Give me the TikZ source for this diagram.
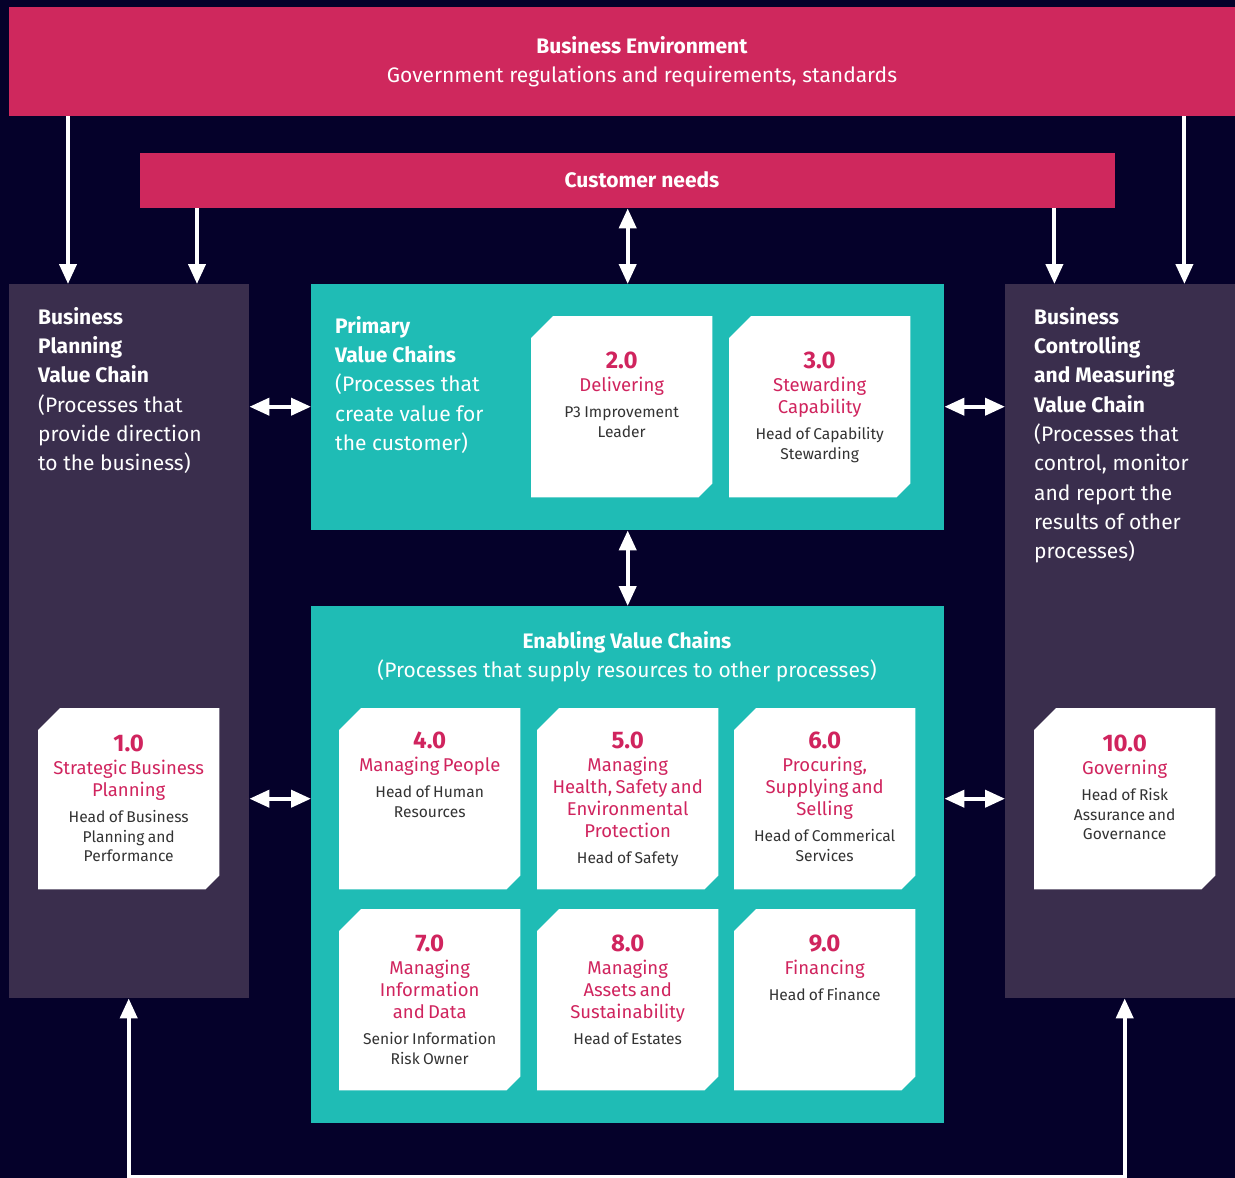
\documentclass[tikz,border=0pt]{standalone}
\usepackage{fontspec}
\setmainfont{Fira Sans}
\usepackage{xcolor}
\usepackage{tikz}
\usetikzlibrary{calc, positioning, arrows.meta}
\definecolor{bgnavy}{HTML}{05012A}
\definecolor{crimson}{HTML}{CF285D}
\definecolor{tealbox}{HTML}{1FBCB5}
\definecolor{panelgrey}{HTML}{3A2E4D}
\definecolor{pinktext}{HTML}{D0245E}
\definecolor{darktext}{HTML}{333333}
\newcommand{\cnum}[1]{{\fontsize{24}{24}\selectfont\bfseries\color{pinktext}#1\par}}
\newcommand{\ctitle}[1]{{\vspace{1pt}\fontsize{18.5}{22}\selectfont\color{pinktext}#1\par}}
\newcommand{\cowner}[1]{{\vspace{6.5pt}\fontsize{15.6}{19.5}\selectfont\color{darktext}#1\par}}
\tikzset{
    envbox/.style = {fill=crimson, inner sep=0pt, anchor=north west},
    panelbox/.style = {fill=panelgrey, inner sep=0pt, anchor=north west, minimum width=240pt, minimum height=714pt},
    chainbox/.style = {fill=tealbox, inner sep=0pt, anchor=north west, minimum width=633pt},
    cardnode/.style = {inner sep=0pt, anchor=north west, minimum width=181pt, minimum height=181pt},
    cardtext/.style = {inner sep=0pt, anchor=north, text width=178pt, align=center},
    headtext/.style = {inner sep=0pt, align=center, text=white, font=\fontsize{21}{29}\selectfont},
    paneltext/.style = {inner sep=0pt, anchor=north west, align=left, text=white, font=\fontsize{21}{29.3}\selectfont},
    flow/.style = {draw=white, line width=4pt, -{Triangle[width=17pt,length=20pt]}},
    twoway/.style = {draw=white, line width=4pt, {Triangle[width=17pt,length=20pt]}-{Triangle[width=17pt,length=20pt]}}
}

\begin{document}
\begin{tikzpicture}[x=1pt, y=-1pt]
\useasboundingbox (0,0) rectangle (1235,1178);
\fill[bgnavy] (0,0) rectangle (1235,1178);

% outer boxes
\node [envbox, minimum width=1226pt, minimum height=109pt] (env) at (9,7) {};
\node [headtext] (envtext) at (642,61.5) {\textbf{Business Environment}\\Government regulations and requirements, standards};

\node [envbox, minimum width=975pt, minimum height=55pt] (needs) at (140,153) {};
\node [headtext] (needstext) at (642,180) {\textbf{Customer needs}};

\node [panelbox] (bpvc) at (9,284) {};
\node [paneltext] (bpvctext) at (38,307) {\textbf{Business}\\\textbf{Planning}\\\textbf{Value Chain}\\(Processes that\\provide direction\\to the business)};

\node [panelbox, minimum width=230pt] (bcmvc) at (1005,284) {};
\node [paneltext] (bcmvctext) at (1034,307) {\textbf{Business}\\\textbf{Controlling}\\\textbf{and Measuring}\\\textbf{Value Chain}\\(Processes that\\control, monitor\\and report the\\results of other\\processes)};

\node [chainbox, minimum height=246pt] (primary) at (311,284) {};
\node [paneltext] (primarytext) at (335,316) {\textbf{Primary}\\\textbf{Value Chains}\\(Processes that\\create value for\\the customer)};

\node [chainbox, minimum height=517pt] (enabling) at (311,606) {};
\node [headtext] (enablingtext) at (627,656.5) {\textbf{Enabling Value Chains}\\(Processes that supply resources to other processes)};

% cards
\node [cardnode] (c1) at (38,708) {};
\node [cardnode] (c2) at (531,316) {};
\node [cardnode] (c3) at (729,316) {};
\node [cardnode] (c4) at (339,708) {};
\node [cardnode] (c5) at (537,708) {};
\node [cardnode] (c6) at (734,708) {};
\node [cardnode] (c7) at (339,909) {};
\node [cardnode] (c8) at (537,909) {};
\node [cardnode] (c9) at (734,909) {};
\node [cardnode] (c10) at (1034,708) {};

\foreach \c in {c1,c2,c3,c4,c5,c6,c7,c8,c9,c10}
    \fill[white] ($(\c.north west)+(0,22)$) -- ($(\c.north west)+(22,0)$) -- (\c.north east)
        -- ($(\c.south east)+(0,-14)$) -- ($(\c.south east)+(-14,0)$) -- (\c.south west) -- cycle;

\node [cardtext, below=27pt of c1.north] (c1text) {\cnum{1.0}\ctitle{Strategic Business\\Planning}\cowner{Head of Business\\Planning and\\Performance}};
\node [cardtext, below=36pt of c2.north] (c2text) {\cnum{2.0}\ctitle{Delivering}\cowner{P3 Improvement\\Leader}};
\node [cardtext, below=36pt of c3.north] (c3text) {\cnum{3.0}\ctitle{Stewarding\\Capability}\cowner{Head of Capability\\Stewarding}};
\node [cardtext, below=24pt of c4.north] (c4text) {\cnum{4.0}\ctitle{Managing People}\cowner{Head of Human\\Resources}};
\node [cardtext, below=24pt of c5.north] (c5text) {\cnum{5.0}\ctitle{Managing\\Health, Safety and\\Environmental\\Protection}\cowner{Head of Safety}};
\node [cardtext, below=24pt of c6.north] (c6text) {\cnum{6.0}\ctitle{Procuring,\\Supplying and\\Selling}\cowner{Head of Commerical\\Services}};
\node [cardtext, below=26pt of c7.north] (c7text) {\cnum{7.0}\ctitle{Managing\\Information\\and Data}\cowner{Senior Information\\Risk Owner}};
\node [cardtext, below=26pt of c8.north] (c8text) {\cnum{8.0}\ctitle{Managing\\Assets and\\Sustainability}\cowner{Head of Estates}};
\node [cardtext, below=26pt of c9.north] (c9text) {\cnum{9.0}\ctitle{Financing}\cowner{Head of Finance}};
\node [cardtext, below=27pt of c10.north] (c10text) {\cnum{10.0}\ctitle{Governing}\cowner{Head of Risk\\Assurance and\\Governance}};

% connectors
\draw [flow] ([xshift=59pt]env.south west) -- ([xshift=59pt]env.south west |- bpvc.north);
\draw [flow] ([xshift=-51pt]env.south east) -- ([xshift=-51pt]env.south east |- bcmvc.north);
\draw [flow] ([xshift=57pt]needs.south west) -- ([xshift=57pt]needs.south west |- bpvc.north);
\draw [flow] ([xshift=-61pt]needs.south east) -- ([xshift=-61pt]needs.south east |- bcmvc.north);
\draw [twoway] (needs.south) -- (primary.north);
\draw [twoway] (primary.south) -- (enabling.north);
\draw [twoway] (bpvc.east |- c2) -- (primary.west |- c2);
\draw [twoway] (primary.east |- c2) -- (bcmvc.west |- c2);
\draw [twoway] (bpvc.east |- c4) -- (enabling.west |- c4);
\draw [twoway] (enabling.east |- c4) -- (bcmvc.west |- c4);

\coordinate (floor) at (0,1177);
\draw [twoway] (c1 |- bpvc.south) -- (c1 |- floor) -- (c10 |- floor) -- (c10 |- bcmvc.south);

\end{tikzpicture}
\end{document}
